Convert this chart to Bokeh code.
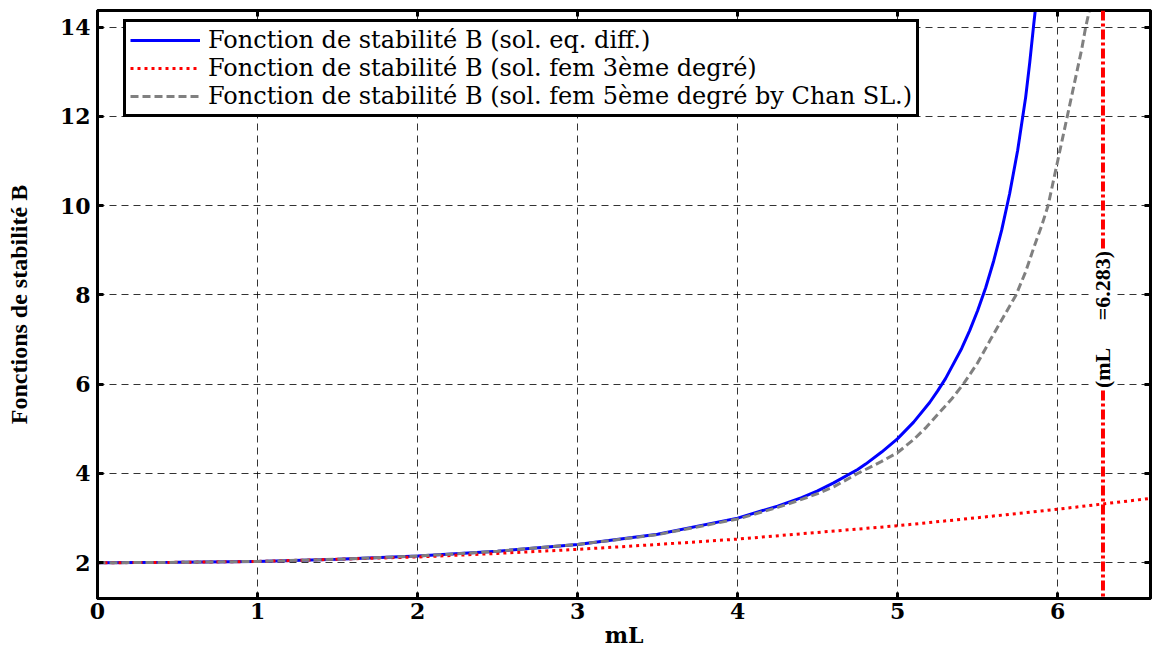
from bokeh.plotting import figure
from bokeh.models import (FixedTicker, LinearAxis, Span, Label, Legend, LegendItem,
                          Range1d, ColumnDataSource, CustomJSTickFormatter)
from bokeh.embed import file_html
from bokeh.resources import INLINE

# ---- data ----
mL_exact = [0.0, 0.5, 1.0, 1.5, 2.0, 2.5, 3.0, 3.5, 4.0, 4.25, 4.4, 4.5, 4.6, 4.75, 4.8,
            4.9, 5.0, 5.1, 5.2, 5.25, 5.3, 5.4, 5.45, 5.5, 5.55, 5.6, 5.65, 5.7, 5.75,
            5.8, 5.825, 5.85, 5.875, 5.9]
B_exact = [2.0, 2.01, 2.03, 2.08, 2.15, 2.26, 2.41, 2.64, 3.0, 3.27, 3.46, 3.61, 3.79, 4.09, 4.21,
           4.48, 4.78, 5.15, 5.59, 5.85, 6.13, 6.80, 7.20, 7.65, 8.16, 8.76, 9.45, 10.27, 11.24,
           12.43, 13.19, 14.05, 14.85, 15.75]

mL_fem3 = [0.0, 0.5, 1.0, 1.5, 2.0, 2.5, 3.0, 3.5, 4.0, 4.5, 5.0, 5.5, 6.0, 6.6]
B_fem3 = [2.0, 2.01, 2.03, 2.08, 2.13, 2.21, 2.30, 2.41, 2.53, 2.68, 2.83, 3.01, 3.20, 3.45]

mL_fem5 = [0.0, 0.5, 1.0, 1.5, 2.0, 2.5, 3.0, 3.5, 4.0, 4.25, 4.4, 4.5, 4.6, 4.75, 4.9, 5.0,
           5.1, 5.18, 5.26, 5.34, 5.41, 5.5, 5.58, 5.66, 5.74, 5.8, 5.85, 5.9, 5.94, 5.97,
           6.0, 6.03, 6.06, 6.09, 6.12, 6.15, 6.175, 6.2]
B_fem5 = [2.0, 2.01, 2.03, 2.08, 2.15, 2.26, 2.41, 2.63, 2.98, 3.24, 3.42, 3.55, 3.70, 4.0, 4.27, 4.47,
          4.76, 5.04, 5.36, 5.68, 6.0, 6.48, 7.0, 7.5, 8.0, 8.52, 9.05, 9.55, 10.0, 10.5,
          11.0, 11.5, 12.0, 12.5, 13.0, 13.5, 14.0, 14.4]

mL_cr = 6.283
x_ticks = [0, 1, 2, 3, 4, 5, 6]
y_ticks = [2, 4, 6, 8, 10, 12, 14]

labels = ["Fonction de stabilité B (sol. eq. diff.)",
          "Fonction de stabilité B (sol. fem 3ème degré)",
          "Fonction de stabilité B (sol. fem 5ème degré by Chan SL.)"]

SERIF = "Liberation Serif"
WIDE_SERIF = "DejaVu Serif"

p = figure(width=1152, height=654, output_backend="svg", toolbar_location=None,
           x_range=Range1d(0, 6.58), y_range=Range1d(1.2, 14.37),
           min_border_left=97, min_border_right=2, min_border_top=10, min_border_bottom=56,
           background_fill_color="white", border_fill_color="white")

p.outline_line_color = "black"
p.outline_line_width = 3

# grid
p.xgrid.ticker = FixedTicker(ticks=x_ticks)
p.ygrid.ticker = FixedTicker(ticks=y_ticks)
for g in (p.xgrid, p.ygrid):
    g.grid_line_color = "black"
    g.grid_line_alpha = 0.8
    g.grid_line_dash = "7 5"
    g.grid_line_width = 1

def style_axis(ax, ticks, show_labels=True):
    ax.ticker = FixedTicker(ticks=ticks)
    ax.axis_line_width = 3
    ax.axis_line_color = "black"
    ax.major_tick_in = 6
    ax.major_tick_out = 0
    ax.major_tick_line_width = 3
    ax.minor_tick_line_color = None
    ax.major_label_text_font = WIDE_SERIF
    ax.major_label_text_font_style = "bold"
    ax.major_label_text_color = "black"
    ax.axis_label_text_font = SERIF
    ax.axis_label_text_font_style = "bold"
    ax.axis_label_text_color = "black"
    if show_labels:
        ax.major_label_text_font_size = "22px"
    else:
        ax.formatter = CustomJSTickFormatter(code="return ''")
        ax.major_label_text_font_size = "1px"
        ax.major_label_text_color = None
        ax.major_label_standoff = 0

xa = p.xaxis[0]
ya = p.yaxis[0]
style_axis(xa, x_ticks)
style_axis(ya, y_ticks)
xa.axis_label = "mL"
xa.axis_label_text_font = WIDE_SERIF
xa.axis_label_text_font_size = "22px"
xa.major_label_standoff = 4
xa.axis_label_standoff = 0
ya.axis_label = "Fonctions de stabilité B"
ya.axis_label_text_font_size = "24px"
ya.major_label_standoff = 7
ya.axis_label_standoff = 25

top_ax = LinearAxis()
right_ax = LinearAxis()
style_axis(top_ax, x_ticks, show_labels=False)
style_axis(right_ax, y_ticks, show_labels=False)
p.add_layout(top_ax, "above")
p.add_layout(right_ax, "right")

# curves
src_exact = ColumnDataSource(dict(x=mL_exact, y=B_exact))
src_fem3 = ColumnDataSource(dict(x=mL_fem3, y=B_fem3))
src_fem5 = ColumnDataSource(dict(x=mL_fem5, y=B_fem5))

r_exact = p.line("x", "y", source=src_exact, line_color="blue", line_width=3)
r_fem3 = p.line("x", "y", source=src_fem3, line_color="red", line_width=3, line_dash="3 4")
r_fem5 = p.line("x", "y", source=src_fem5, line_color="#808080", line_width=3, line_dash="8 4")

# critical value line
p.add_layout(Span(location=mL_cr, dimension="height", line_color="red",
                  line_width=4, line_dash="10 3 3 3"))
p.add_layout(Label(x=mL_cr, y=7.45, text="(mL\u00a0\u00a0\u00a0\u00a0\u00a0=6.283)",
                   angle=1.5708, text_align="center", text_baseline="middle",
                   text_font=SERIF, text_font_style="bold", text_font_size="22px",
                   text_color="black", background_fill_color="white"))

legend = Legend(items=[LegendItem(label=labels[0], renderers=[r_exact]),
                       LegendItem(label=labels[1], renderers=[r_fem3]),
                       LegendItem(label=labels[2], renderers=[r_fem5])],
                location=(26, 481))
legend.label_text_font = WIDE_SERIF
legend.label_text_font_size = "24px"
legend.label_text_color = "black"
legend.glyph_width = 70
legend.glyph_height = 24
legend.label_height = 24
legend.label_standoff = 8
legend.spacing = 0
legend.padding = 4
legend.margin = 0
legend.border_line_color = "black"
legend.border_line_alpha = 1
legend.border_line_width = 3
legend.background_fill_color = "white"
legend.background_fill_alpha = 1
p.add_layout(legend, "center")

open("out.html", "w").write(file_html(p, INLINE))
